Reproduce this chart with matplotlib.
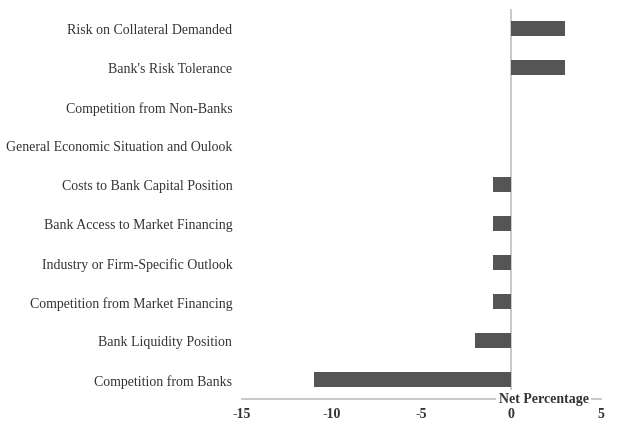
import matplotlib
matplotlib.use("Agg")
import matplotlib.pyplot as plt

categories = [
    "Risk on Collateral Demanded",
    "Bank's Risk Tolerance",
    "Competition from Non-Banks",
    "General Economic Situation and Oulook",
    "Costs to Bank Capital Position",
    "Bank Access to Market Financing",
    "Industry or Firm-Specific Outlook",
    "Competition from Market Financing",
    "Bank Liquidity Position",
    "Competition from Banks",
]
values = [3, 3, 0, 0, -1, -1, -1, -1, -2, -11]
xticks = [-15, -10, -5, 0, 5]
axis_title = "Net Percentage"

plt.rcParams['font.family'] = ['Liberation Serif', 'DejaVu Serif']

fig = plt.figure(figsize=(6.17, 4.27), dpi=100)
ax = fig.add_axes([242/617, 27/427, (601-242)/617, (400-10)/427])

n = len(categories)
ypos = list(range(n - 1, -1, -1))
ax.barh(ypos, values, height=0.4, color="#555555", zorder=3)

ax.set_xlim(-15, 5)
ax.set_ylim(-0.5, n - 0.5)
ax.set_yticks(ypos)
ax.set_yticklabels(categories, fontsize=10, color="#333333")
ax.set_xticks(xticks)
ax.set_xticklabels([str(t) for t in xticks], fontsize=10, color="#333333", fontweight="bold")
ax.tick_params(axis='both', length=0)
ax.tick_params(axis='y', pad=7)
ax.tick_params(axis='x', pad=6)

for s in ['top', 'right', 'left']:
    ax.spines[s].set_visible(False)
ax.spines['bottom'].set_color("#bfbfbf")
ax.spines['bottom'].set_linewidth(1.2)
ax.axvline(0, color="#bfbfbf", linewidth=1.2, zorder=2)

ax.text(1.8, -0.5, axis_title, ha='center', va='center', fontsize=10,
        fontweight='bold', color="#333333", zorder=5, clip_on=False,
        bbox=dict(facecolor='white', edgecolor='none', pad=1.5))

fig.savefig("out.png", dpi=100)
